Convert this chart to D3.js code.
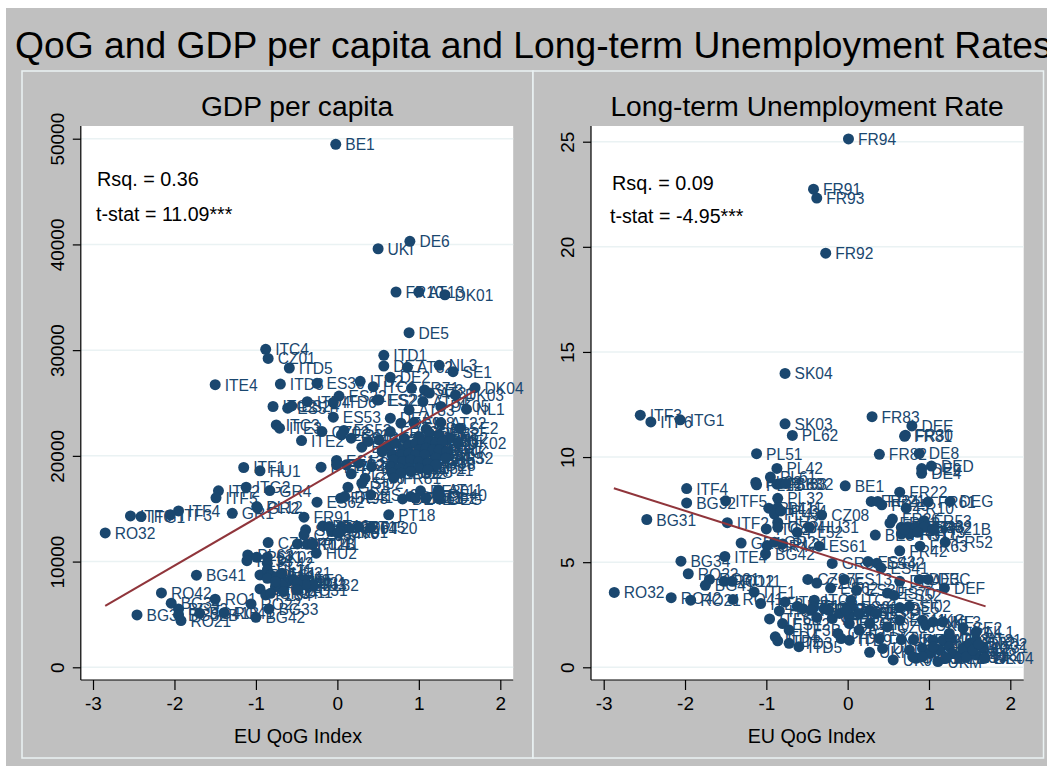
<!DOCTYPE html>
<html><head><meta charset="utf-8">
<script src="https://cdn.jsdelivr.net/npm/d3@7/dist/d3.min.js"></script>
<style>html,body{margin:0;padding:0;background:#fff}svg{display:block}text{font-family:"Liberation Sans",Arial,sans-serif}</style>
</head><body><svg id="c" width="1047" height="766"></svg>
<script>
const mainTitle = "QoG and GDP per capita and Long-term Unemployment Rates";
const xTicks = [-3,-2,-1,0,1,2];
const gdpTicks = [0,10000,20000,30000,40000,50000];
const lturTicks = [0,5,10,15,20,25];
const xAxisTitle = "EU QoG Index";

const gdpNames = [
"BE1","DE6","UKI","FR10","AT13","DK01","DE5","ITC4",
"CZ01","ITD1","ITD5","DE7","AT32","NL3","SE1","DE2",
"ITE4","ITD3","ES30","ITD2","ITC1","FR71","SE3","AT31",
"DK04","DK03","ES22","ES21","ITD4","ITC2","ES51","ES24",
"ITD6","ES23","AT34","AT33","DK05","NL1","ES53","DEA",
"DE9","FI18","AT22","SE2","ITC3","ITE3","CZ02","ES52",
"ES41","ES43","FR62","FI19","ITE2","ES11","ES12","ES70",
"FR82","FR61","DEB","DE3","NL2","FR41","FR24","DK02",
"FR51","FR25","FR23","FR72","FR43","FR26","UKD","UKE",
"UKF","UKG","UKH","UKJ","UKK","UKL","UKM","UKC",
"FR63","FR21","FR53","FR52","BE3","DE4","FR22","FR83",
"FR30","DE8","DED","FR42","FI13","SE31","AT21","SE32",
"AT12","DEC","DEF","FR81","ES13","FR92","ITF1","HU1",
"PT17","ES25","ES61","ES42B","PL22","CY0","SI02","GR3",
"ITG2","ITF2","GR4","ITF5","DE80","AT11","DEG","DE40",
"ES42","FR93","DE41","DE42","DEE","DED2","ES63","ES62",
"PL12","GR2","ITF4","ITF3","ITF6","ITG1","GR1","FR91",
"PT18","RO32","SI01","CZ03","PT16","CZ05","CZ06","SK01",
"PT15","PT20","CZ04","CZ07","MT0","CZ08","SK02B","PT11",
"PL41","HU2","PL63","PL33","PL21","SK02","PL51","PL42",
"PL11","PL61","PL43","PL31","HU21","LT0","LV0","EE0",
"PL32","HU3","HU31","HU23","PL62","SK03","PL34","SK04",
"RO12","RO11","RO31","BG41","RO42","RO1","BG34","BG32",
"BG31","BG32B","RO21","BG41B","RO41","RO22","BG33","BG42"];
const gdpQog = [
-.02,.89,.50,.72,1.00,1.32,.88,-.88,
-.85,.57,-.59,.57,.86,1.25,1.42,.65,
-1.50,-.70,-.25,.28,.44,.91,1.07,1.13,
1.69,1.45,.02,.49,-.37,-.79,-.61,-.56,
-.05,.51,1.05,.88,1.27,1.585,-.05,.65,
.78,.94,1.27,1.50,-.75,-.71,-.19,.08,
.05,.17,.65,1.09,-.44,.30,.38,.51,
.82,1.0,1.13,1.25,1.38,.55,.63,1.48,
.71,.80,.88,.96,1.05,1.13,1.21,1.29,
1.0,1.09,1.17,1.25,1.34,.67,.78,.88,
.96,1.07,1.21,1.33,.69,.80,.90,1.0,
1.11,1.21,.65,.76,.88,1.0,1.11,.67,
.78,.90,.55,.69,-.01,-.01,-1.15,-.95,
-.20,.11,.26,.42,.17,.34,.30,.13,
-1.12,-1.46,-.83,-1.49,1.02,1.24,1.25,1.24,
.41,.04,.09,.80,.90,1.09,.96,-.25,
-.99,-.98,-1.95,-2.05,-2.54,-2.41,-1.29,-.41,
.63,-2.85,-.39,-.41,-.18,-.07,.05,.04,
.26,.41,.15,-.10,.01,-.85,-.49,-.37,
-.30,-.26,-1.10,-1.11,-.99,-.86,-.95,-.86,
-.86,-.82,-.86,-.74,-.68,-.61,-.53,-.41,
-.30,-.39,-.49,-.68,-.76,-.95,-.88,-.82,
-.76,-.66,-.49,-1.73,-2.16,-1.50,-2.04,-1.95,
-2.46,-1.95,-1.92,-1.69,-1.39,-1.06,-.84,-1.0];
const gdpValues = [
49470,40290,39590,35500,35500,35240,31650,30080,
29220,29510,28310,28500,28370,28560,27960,27430,
26730,26790,26860,27050,26540,26390,26230,25940,
26450,25760,25660,25280,25120,24670,24510,24730,
25050,25300,25140,24350,24670,24420,23660,23560,
23090,23150,23150,22620,22930,22620,22300,22400,
21990,21670,22300,22520,21450,20820,21360,21510,
21670,21830,22140,21990,21670,20570,20880,21200,
21200,20570,21040,21200,21360,21360,21200,21360,
20570,20730,20570,20570,20410,20090,20090,20250,
20090,20090,19780,19780,19620,19460,19620,19460,
19310,19150,18990,18830,18830,18830,18670,18360,
18360,18520,20400,17890,19560,19150,18900,18580,
18930,19150,19310,18990,18300,17890,17410,17030,
17030,16690,16720,16030,16690,16780,15930,16310,
16310,15990,16150,15930,16150,15990,15990,15620,
15200,15050,14790,14420,14320,14260,14570,14200,
14420,12710,13000,12520,13370,12840,13310,12840,
13310,13220,13150,13310,12680,11800,11670,11640,
11670,10790,10630,10090,10410,10410,8740,9840,
9210,8740,8420,8580,8900,8100,8260,8260,
7790,7790,7950,7790,7630,7410,6850,7000,
8100,7160,7320,8710,7030,6440,6060,5520,
4950,4950,4420,5110,5170,5990,5520,4730];

const lturNames = [
"FR94","FR91","FR93","FR92","SK04","ITF3","ITF6","ITG1",
"SK03","PL62","FR83","DEE","FR30","FR81","PL51","FR82",
"DE8","DED","DE9","DE4","PL42","PL61","PL22","PL12",
"PL63","PL33","SK02","BE1","ITF4","FR22","BG32","ITF5",
"FR24","FR21","FR25","PL32","FR61","DEG","FR10","PL41",
"PL11","PL43","PL34","CZ08","BG31","ITF2","HU3","CZ04",
"ITG2","HU31","PL52","FR26","FR41","FR53","FR23","FR72",
"FR43","FR62","FR51","FR71","FR73","FR21B","BE3","BE2",
"FR52","FR63","GR1","GR4","GR2","PL31","ES61","BG42",
"ITE4","FR42","BG34","GR3","ES43","ES42","ES41","RO22",
"RO31","BG41","RO12","RO11","CZ07","CZ05","ES13","ES62",
"DEA","DE3","DEC","DEF","RO32","RO42","RO21","RO41",
"ITF1","ITE2","ITD9","ES30","ES70","ES52","ITE1","ITE3",
"ITC3","ITC1","ITF7","ITC2","ES21","ES22","HU2","ITF6B",
"ES12","ITF3B","ITD4","ITD2","ITD3","ITD5","ITD1B","ITC4",
"ITE5","CZ02","ITD6","ITE9","ITF8","ES23","ES24","ES53",
"DE8B","ES51","DE5","SI02","PT11","PT15","CY0","CZ06",
"ES11","UKC","UKE","UKF","DK05","UKL","DE7","UKD",
"UKH","UKJ","UKI","ITD1","UKM","UKG","AT33","DE1",
"SE3","DE2","UKK","AT13","AT32","AT34","AT12","AT22",
"AT21","AT31","FI18","FI19","NL4","SE1","DK01","DK03",
"NL3","SE2","NL2","DK02","NL1","DK04","AT11","FI13"];
const lturQog = [
.01,-.42,-.38,-.27,-.77,-2.55,-2.42,-2.06,
-.77,-.68,.30,.79,.71,.70,-1.12,.39,
.88,1.03,.91,.91,-.87,-.95,-1.13,-1.12,
-.87,-.82,-.76,-.03,-1.98,.64,-1.98,-1.50,
.29,.37,.42,-.86,.99,1.26,.72,-.97,
-.86,-.90,-.82,-.32,-2.47,-1.48,-.86,-.86,
-1.0,-.47,-.62,.55,.52,.94,.66,.74,
.84,.94,.66,.76,.86,1.05,.34,.70,
1.20,.89,-1.31,-.99,-.90,-.80,-.35,-1.01,
-1.51,.64,-2.05,-.19,.25,.36,.41,-1.96,
-1.70,-1.75,-1.52,-1.42,-.49,-.38,-.04,-.21,
.64,.88,.99,1.19,-2.87,-2.17,-1.93,-1.41,
-1.15,-1.07,-.77,.11,.49,.57,-.62,-.55,
-.41,-.42,-.29,.04,.04,.02,-.84,-.96,
-.80,-.72,-.89,-.86,-.72,-.60,-.45,-.38,
-.19,-.12,-.08,.02,-.23,-.10,-.02,.14,
.27,.35,.64,.76,.02,.14,.27,.49,
.64,.92,.96,1.05,.39,.66,.81,.43,
.27,.56,.76,.84,1.11,1.05,1.17,1.27,
.92,1.01,1.13,1.25,1.29,1.38,1.42,1.50,
1.58,1.66,1.58,1.46,1.68,1.21,.80,.92,
1.17,1.42,1.54,1.61,1.58,1.69,1.05,1.25];
const lturValues = [
25.13,22.74,22.32,19.70,13.98,11.99,11.67,11.77,
11.58,11.03,11.92,11.48,11.04,10.99,10.16,10.13,
10.17,9.57,9.45,9.23,9.46,9.05,8.79,8.68,
8.71,8.74,8.74,8.63,8.50,8.33,7.82,7.92,
7.89,7.89,7.73,8.04,7.87,7.89,7.57,7.57,
7.60,7.29,7.44,7.24,7.03,6.88,6.89,6.66,
6.58,6.66,6.42,7.05,6.86,6.97,6.66,6.69,
6.66,6.66,6.34,6.34,6.42,6.58,6.29,6.55,
5.95,5.76,5.91,5.79,5.95,5.87,5.76,5.39,
5.27,5.54,5.05,4.94,5.03,4.95,4.72,4.45,
4.18,3.90,4.09,4.09,4.18,4.01,4.18,3.77,
4.09,4.18,4.18,3.77,3.56,3.31,3.19,3.23,
3.58,3.03,3.11,3.66,3.53,3.42,2.90,2.79,
3.19,2.87,2.79,3.19,2.87,2.40,2.68,2.30,
2.08,1.77,1.45,1.26,1.14,.98,2.71,2.37,
2.32,1.61,1.37,1.29,2.71,2.56,2.71,2.56,
2.71,2.56,2.84,2.90,2.08,1.77,2.08,1.92,
2.24,2.24,2.0,2.16,1.37,1.32,1.32,.90,
.71,.35,.82,.43,.27,1.29,1.29,1.37,
.90,.66,.82,.98,.66,.50,.90,1.14,
1.29,.98,.58,.50,.43,.43,.50,.50,
2.16,1.88,.82,1.10,1.69,.45,.98,1.61];

const gdpFit = {qog:[-2.85,1.69], v:[5800,26160]};
const lturFit = {qog:[-2.875,1.696], v:[8.52,2.90]};

const NAVY="#1a476f", FIT="#90353b", GRID="#eaf2f3", BG="#c0c0c0";
const svg=d3.select("#c");
svg.append("rect").attr("x",6).attr("y",8).attr("width",1041).attr("height",758).attr("fill",BG);
svg.append("text").attr("x",15).attr("y",58).attr("font-size",37.25).attr("fill","#000").text(mainTitle);

function panel(o){
  const g=svg.append("g");
  g.append("rect").attr("x",o.frame[0]).attr("y",o.frame[1]).attr("width",o.frame[2]-o.frame[0]).attr("height",o.frame[3]-o.frame[1])
    .attr("fill",BG).attr("stroke",GRID).attr("stroke-width",1.5);
  g.append("rect").attr("x",o.left).attr("y",126).attr("width",o.right-o.left).attr("height",554).attr("fill","#fff");
  const x=d3.scaleLinear().domain([-3,2]).range(o.xr);
  const y=d3.scaleLinear().domain(o.yd).range(o.yr);
  g.selectAll("line.grid").data(o.yTicks).join("line").attr("class","grid")
    .attr("x1",o.left).attr("x2",o.right).attr("y1",d=>y(d)).attr("y2",d=>y(d)).attr("stroke",GRID).attr("stroke-width",1.5);
  const ax=g.append("g").attr("transform",`translate(0,680)`)
    .call(d3.axisBottom(x).tickValues(xTicks).tickSize(10).tickPadding(5).tickFormat(d=>String(d)));
  ax.select(".domain").attr("d",`M${o.left},0H${o.right}`);
  const ay=g.append("g").attr("transform",`translate(${o.left},0)`)
    .call(d3.axisLeft(y).tickValues(o.yTicks).tickSize(8).tickPadding(0).tickFormat(d=>String(d)));
  ay.select(".domain").attr("d",`M0,126V680`);
  [ax,ay].forEach(a=>{a.attr("font-family",null);a.selectAll("path,line").attr("stroke","#000").attr("stroke-width",1.2);
    a.selectAll("text").attr("font-size",19).attr("fill","#000");});
  ax.selectAll("text").attr("dy",null).attr("transform",null).attr("dominant-baseline","central").attr("y",23);
  ay.selectAll("text").attr("dy",null).attr("x",null).attr("y",null).attr("text-anchor","middle").attr("dominant-baseline","central")
    .attr("transform",`translate(${o.tickX-o.left},0) rotate(-90)`);
  g.append("text").attr("x",o.subX).attr("y",116).attr("text-anchor","middle").attr("font-size",28.2).text(o.sub);
  g.append("text").attr("x",o.titleX).attr("y",743).attr("text-anchor","middle").attr("font-size",19.7).text(xAxisTitle);
  g.append("text").attr("x",o.a1[0]).attr("y",o.a1[1]).attr("font-size",19.8).text(o.t1);
  g.append("text").attr("x",o.a2[0]).attr("y",o.a2[1]).attr("font-size",19.6).text(o.t2);
  const rows=d3.zip(o.names,o.qog,o.vals);
  g.append("g").selectAll("text").data(rows).join("text")
    .attr("x",d=>x(d[1])+9.5).attr("y",d=>y(d[2])+0.5).attr("dominant-baseline","central")
    .attr("font-size",15.6).attr("fill",NAVY).text(d=>d[0]);
  g.append("g").selectAll("circle").data(rows).join("circle")
    .attr("cx",d=>x(d[1])).attr("cy",d=>y(d[2])).attr("r",5.5).attr("fill",NAVY);
  g.append("path").attr("fill","none").attr("stroke",FIT).attr("stroke-width",2)
    .attr("d",d3.line().x(d=>x(d[0])).y(d=>y(d[1]))(d3.zip(o.fit.qog,o.fit.v)));
}
panel({frame:[22,71,533,758],left:80.8,right:513.2,xr:[93,500.3],yd:[0,50000],yr:[667.3,138.7],yTicks:gdpTicks,tickX:57,
  sub:"GDP per capita",subX:297,titleX:298,a1:[97,186],a2:[96,220.5],t1:"Rsq. = 0.36",t2:"t-stat = 11.09***",names:gdpNames,qog:gdpQog,vals:gdpValues,fit:gdpFit});
panel({frame:[533,71,1043.5,758],left:591,right:1023.7,xr:[603.7,1010.3],yd:[0,25],yr:[667.3,141.7],yTicks:lturTicks,tickX:567,
  sub:"Long-term Unemployment Rate",subX:807,titleX:811.7,a1:[612,190],a2:[610,222.5],t1:"Rsq. = 0.09",t2:"t-stat = -4.95***",names:lturNames,qog:lturQog,vals:lturValues,fit:lturFit});
</script></body></html>
